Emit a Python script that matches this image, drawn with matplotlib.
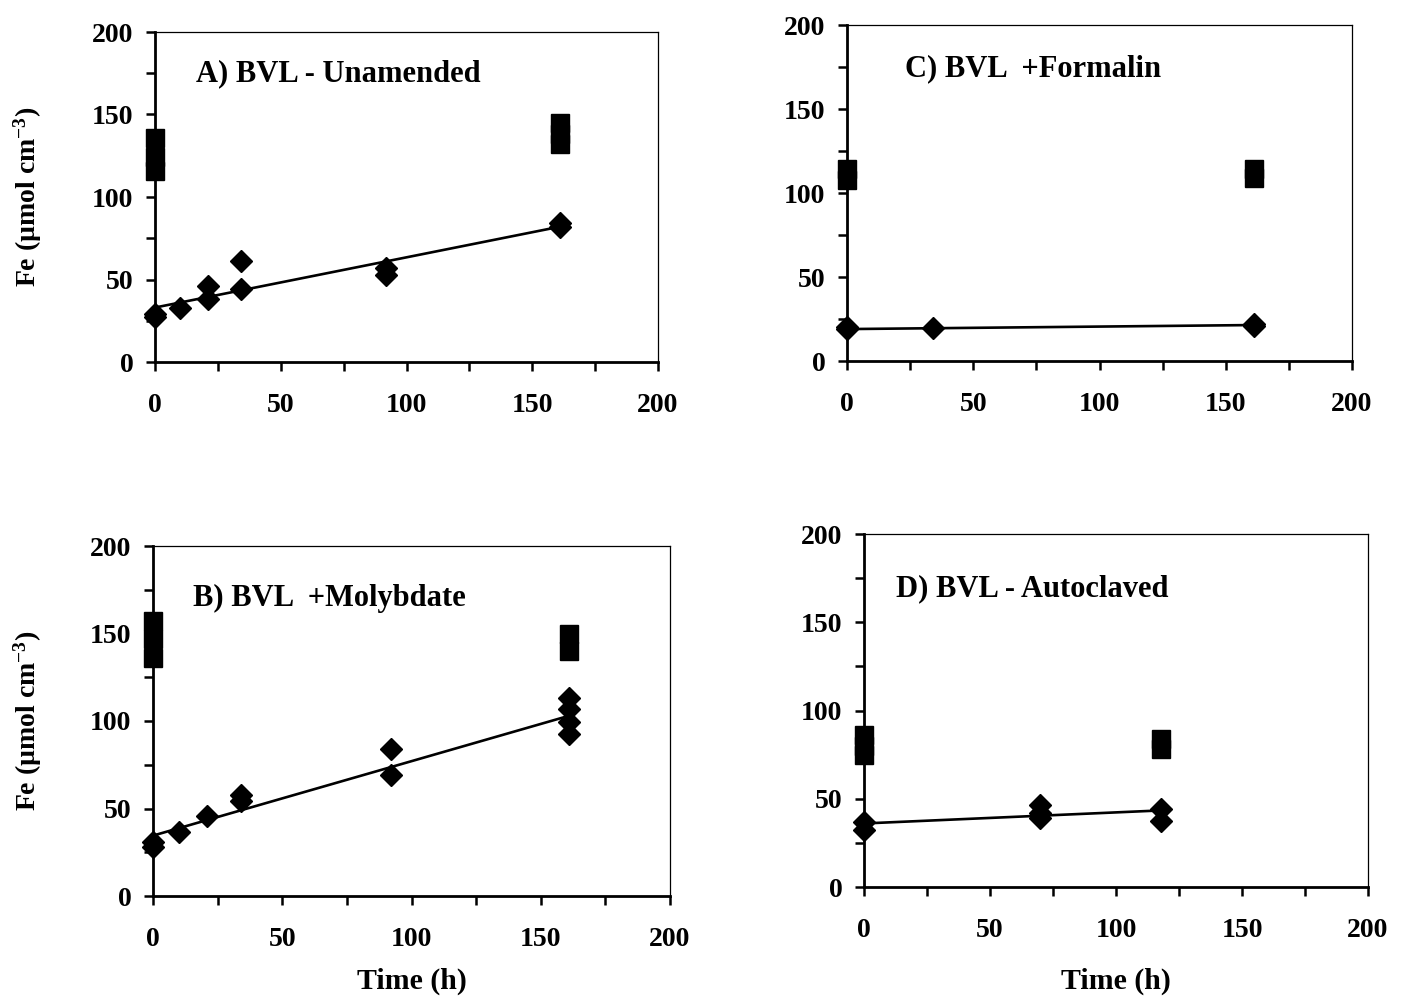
import matplotlib
matplotlib.use("Agg")
import matplotlib.pyplot as plt
import numpy as np

plt.rcParams['font.family'] = ['Liberation Serif', 'DejaVu Serif']
plt.rcParams['font.weight'] = 'bold'
plt.rcParams['mathtext.fontset'] = 'custom'
plt.rcParams['mathtext.rm'] = 'Liberation Serif:bold'
plt.rcParams['mathtext.default'] = 'rm'

# ---- Panel A: BVL - Unamended ----
a_sq_x = [0, 0, 0, 161, 161, 161]
a_sq_y = [136, 124, 116, 145, 138, 132]
a_di_x = [0, 0, 10, 21, 21, 34, 34, 92, 92, 161, 161]
a_di_y = [29, 27, 33, 46, 38, 61, 44, 57, 53, 84, 82]
a_fit_x = [0, 161]
a_fit_y = [33, 82]

# ---- Panel C: BVL +Formalin ----
c_sq_x = [0, 0, 161, 161]
c_sq_y = [114, 108, 114, 109]
c_di_x = [0, 0, 34, 161, 161]
c_di_y = [20, 19, 19.4, 22, 21]
c_fit_x = [0, 161]
c_fit_y = [19, 21.4]

# ---- Panel B: BVL +Molybdate ----
b_sq_x = [0, 0, 0, 161, 161]
b_sq_y = [157, 147, 136, 150, 140]
b_di_x = [0, 0, 10, 21, 34, 34, 92, 92, 161, 161, 161, 161]
b_di_y = [31, 28, 36.5, 46, 57.5, 54.5, 84, 69, 113, 107, 99.5, 92.5]
b_fit_x = [0, 161]
b_fit_y = [34.5, 103]

# ---- Panel D: BVL - Autoclaved ----
d_sq_x = [0, 0, 0, 118, 118]
d_sq_y = [86, 80, 75, 84, 78]
d_di_x = [0, 0, 70, 70, 70, 118, 118]
d_di_y = [37, 32.5, 46.5, 42, 39, 44, 37.5]
d_fit_x = [0, 118]
d_fit_y = [36, 43.4]

titles = ["A) BVL - Unamended", "C) BVL  +Formalin",
          "B) BVL  +Molybdate", "D) BVL - Autoclaved"]
x_ticks = [0, 50, 100, 150, 200]
y_ticks = [0, 50, 100, 150, 200]

fig = plt.figure(figsize=(14.03, 9.96), dpi=100)
W, H = 1403, 996

def make_ax(l, r, t, b):
    return fig.add_axes([l / W, 1 - b / H, (r - l) / W, (b - t) / H])

axA = make_ax(155, 658, 32, 362)
axC = make_ax(847, 1352, 25, 361)
axB = make_ax(153, 670, 546, 896)
axD = make_ax(864, 1368, 534, 887)

panels = [
    (axA, a_sq_x, a_sq_y, a_di_x, a_di_y, a_fit_x, a_fit_y, titles[0], (16.5, 175)),
    (axC, c_sq_x, c_sq_y, c_di_x, c_di_y, c_fit_x, c_fit_y, titles[1], (23, 174)),
    (axB, b_sq_x, b_sq_y, b_di_x, b_di_y, b_fit_x, b_fit_y, titles[2], (15.5, 170)),
    (axD, d_sq_x, d_sq_y, d_di_x, d_di_y, d_fit_x, d_fit_y, titles[3], (12.5, 169)),
]

for ax, sx, sy, dx, dy, fx, fy, title, tpos in panels:
    ax.plot(fx, fy, color='black', lw=1.9, zorder=2)
    ax.plot(dx, dy, linestyle='none', marker='D', ms=11, color='black', zorder=3, clip_on=False)
    ax.plot(sx, sy, linestyle='none', marker='s', ms=13.5, color='black', zorder=3, clip_on=False)
    ax.set_xlim(0, 200)
    ax.set_ylim(0, 200)
    ax.set_xticks(x_ticks)
    ax.set_yticks(y_ticks)
    ax.set_xticks([25, 75, 125, 175], minor=True)
    ax.set_yticks([25, 75, 125, 175], minor=True)
    ax.tick_params(axis='both', which='both', direction='out', length=6.5, width=1.8)
    ax.tick_params(axis='x', which='major', pad=16, labelsize=20)
    ax.tick_params(axis='y', which='major', pad=9, labelsize=20)
    for lab in ax.get_xticklabels() + ax.get_yticklabels():
        lab.set_fontweight('bold')
    ax.spines['left'].set_linewidth(2.0)
    ax.spines['bottom'].set_linewidth(2.0)
    ax.spines['top'].set_linewidth(0.9)
    ax.spines['right'].set_linewidth(0.9)
    ax.text(tpos[0], tpos[1], title, fontsize=22, fontweight='bold', va='center', ha='left')

for ax, l in ((axA, 155), (axB, 153)):
    ax.set_ylabel("Fe (µmol cm$^{-3}$)", fontsize=20, fontweight='bold')
    bb = ax.get_position()
    ax.yaxis.set_label_coords((44 - l) / (bb.width * W), 0.5)

fig.text(411.5 / W, 1 - 981 / H, "Time (h)", fontsize=21.5, fontweight='bold', ha='center', va='center')
fig.text(1116 / W, 1 - 981 / H, "Time (h)", fontsize=21.5, fontweight='bold', ha='center', va='center')

fig.savefig("out.png", dpi=100)
